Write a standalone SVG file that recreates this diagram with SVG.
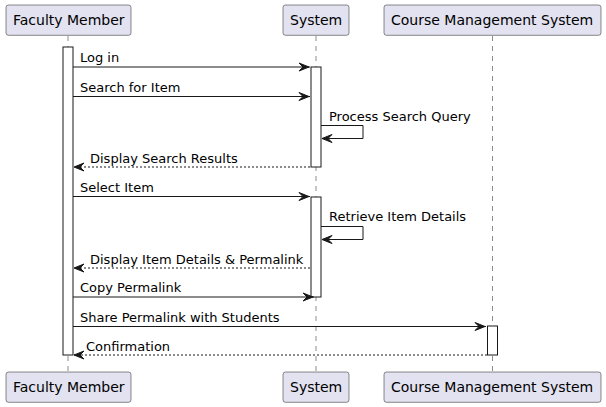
<svg xmlns="http://www.w3.org/2000/svg" width="606" height="407" viewBox="0 0 606 407">
<style>
.pbox{fill:#E2E2F0;stroke:#181818;stroke-width:0.5}
.ptxt{font-family:"DejaVu Sans",sans-serif;font-size:14px;fill:#000}
.life{stroke:#181818;stroke-width:0.5;stroke-dasharray:5,5}
.act{fill:#FFFFFF;stroke:#181818;stroke-width:1}
.msg{stroke:#181818;stroke-width:1;fill:none}
.dash{stroke-dasharray:2,2}
.mtxt{font-family:"DejaVu Sans",sans-serif;font-size:13px;fill:#000}
.head{fill:#181818;stroke:#181818;stroke-width:1}
</style>
<rect width="606" height="407" fill="#FFFFFF"/>
<g id="lifelines">
<line class="life" x1="68" y1="36" x2="68" y2="371"/>
<line class="life" x1="316" y1="36" x2="316" y2="371"/>
<line class="life" x1="492.5" y1="36" x2="492.5" y2="371"/>
</g>
<g id="faculty">
<rect class="pbox" x="6" y="5" width="125" height="30.3" rx="2.5"/>
<text class="ptxt" x="13" y="25">Faculty Member</text>
<rect class="pbox" x="6" y="372" width="125" height="30.3" rx="2.5"/>
<text class="ptxt" x="13" y="392">Faculty Member</text>
<rect class="act" x="63" y="47" width="10" height="308"/>
</g>
<g id="system">
<rect class="pbox" x="283" y="5" width="66" height="30.3" rx="2.5"/>
<text class="ptxt" x="290" y="25">System</text>
<rect class="pbox" x="283" y="372" width="66" height="30.3" rx="2.5"/>
<text class="ptxt" x="290" y="392">System</text>
<rect class="act" x="311" y="67" width="10" height="100"/>
<rect class="act" x="311" y="197" width="10" height="100"/>
</g>
<g id="cms">
<rect class="pbox" x="384" y="5" width="217" height="30.3" rx="2.5"/>
<text class="ptxt" x="391" y="25">Course Management System</text>
<rect class="pbox" x="384" y="372" width="217" height="30.3" rx="2.5"/>
<text class="ptxt" x="391" y="392">Course Management System</text>
<rect class="act" x="487.5" y="326" width="10" height="29"/>
</g>
<g id="connectors">
<line class="msg" x1="73" y1="67" x2="310" y2="67"/>
<polygon class="head" points="299,63 309,67 299,71 303,67"/>
<text class="mtxt" x="80" y="62">Log in</text>

<line class="msg" x1="73" y1="96.5" x2="310" y2="96.5"/>
<polygon class="head" points="299,92.5 309,96.5 299,100.5 303,96.5"/>
<text class="mtxt" x="80" y="91.5">Search for Item</text>

<polyline class="msg" points="321,125.5 363,125.5 363,138.5 322,138.5"/>
<polygon class="head" points="332,134.5 322,138.5 332,142.5 328,138.5"/>
<text class="mtxt" x="329" y="121">Process Search Query</text>

<line class="msg dash" x1="310" y1="167" x2="74" y2="167"/>
<polygon class="head" points="84,163 74,167 84,171 80,167"/>
<text class="mtxt" x="90" y="162.5">Display Search Results</text>

<line class="msg" x1="73" y1="196.5" x2="310" y2="196.5"/>
<polygon class="head" points="299,192.5 309,196.5 299,200.5 303,196.5"/>
<text class="mtxt" x="80" y="191.5">Select Item</text>

<polyline class="msg" points="321,226.5 363,226.5 363,239.5 322,239.5"/>
<polygon class="head" points="332,235.5 322,239.5 332,243.5 328,239.5"/>
<text class="mtxt" x="329" y="221">Retrieve Item Details</text>

<line class="msg dash" x1="310" y1="268" x2="74" y2="268"/>
<polygon class="head" points="84,264 74,268 84,272 80,268"/>
<text class="mtxt" x="90" y="263.5">Display Item Details &amp; Permalink</text>

<line class="msg" x1="73" y1="297" x2="314" y2="297"/>
<polygon class="head" points="303,293 313,297 303,301 307,297"/>
<text class="mtxt" x="80" y="292">Copy Permalink</text>

<line class="msg" x1="73" y1="326.5" x2="486" y2="326.5"/>
<polygon class="head" points="475,322.5 485,326.5 475,330.5 479,326.5"/>
<text class="mtxt" x="80" y="321.5">Share Permalink with Students</text>

<line class="msg dash" x1="487" y1="355" x2="74" y2="355"/>
<polygon class="head" points="84,351 74,355 84,359 80,355"/>
<text class="mtxt" x="86" y="350.5">Confirmation</text>
</g>
</svg>
